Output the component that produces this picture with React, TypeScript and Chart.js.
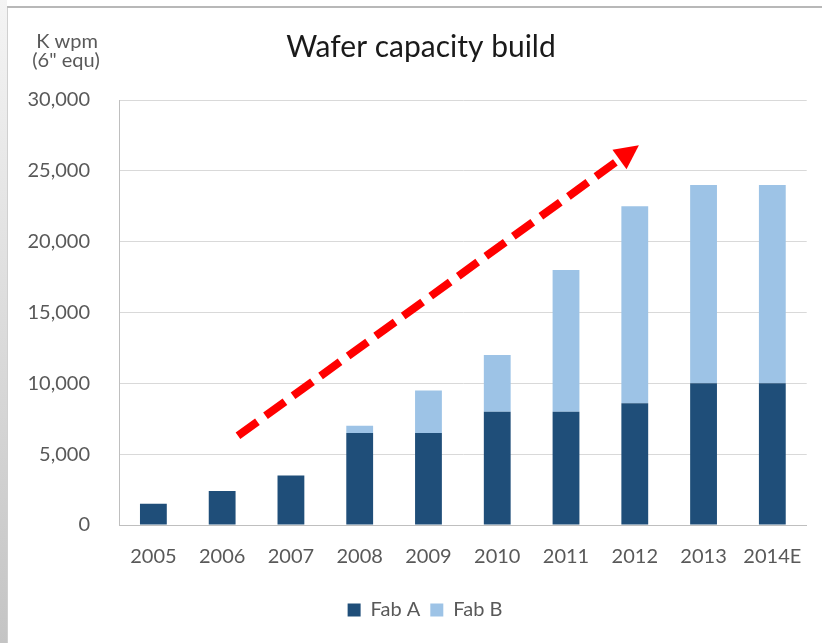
import React, { useEffect, useRef } from 'react';
import { Chart, registerables } from 'chart.js';

Chart.register(...registerables);

const years = ['2005', '2006', '2007', '2008', '2009', '2010', '2011', '2012', '2013', '2014E'];
const fabA = [1500, 2400, 3500, 6500, 6500, 8000, 8000, 8600, 10000, 10000];
const fabB = [0, 0, 0, 500, 3000, 4000, 10000, 13900, 14000, 14000];
const yTickValues = [0, 5000, 10000, 15000, 20000, 25000, 30000];
const titleText = 'Wafer capacity build';
const unitLines = ['K wpm', '(6" equ)'];
// trend arrow, in data units: [category index, value]
const arrowFrom = [1.23, 6300];
const arrowTo = [7.06, 26800];

const FONT = 'Lato, "Open Sans", sans-serif';
const GRAY = '#595959';

const decorPlugin = {
  id: 'decor',
  afterLayout(chart: any) {
    const lg = chart.legend;
    if (lg) {
      lg.left = 42;
      lg.width = lg.right - lg.left;
    }
  },
  afterDatasetsDraw(chart: any) {
    const { ctx } = chart;
    const xs = chart.scales.x;
    const ys = chart.scales.y;
    const x1 = xs.getPixelForValue(arrowFrom[0]);
    const y1 = ys.getPixelForValue(arrowFrom[1]);
    const x2 = xs.getPixelForValue(arrowTo[0]);
    const y2 = ys.getPixelForValue(arrowTo[1]);
    const ang = Math.atan2(y2 - y1, x2 - x1);
    const headLen = 24;
    const headW = 24;
    const bx = x2 - headLen * Math.cos(ang);
    const by = y2 - headLen * Math.sin(ang);
    ctx.save();
    ctx.strokeStyle = '#ff0000';
    ctx.fillStyle = '#ff0000';
    ctx.lineWidth = 8;
    ctx.lineCap = 'butt';
    ctx.setLineDash([24, 10]);
    ctx.beginPath();
    ctx.moveTo(x1, y1);
    ctx.lineTo(bx + 2 * Math.cos(ang), by + 2 * Math.sin(ang));
    ctx.stroke();
    ctx.setLineDash([]);
    const px = -Math.sin(ang) * headW / 2;
    const py = Math.cos(ang) * headW / 2;
    ctx.beginPath();
    ctx.moveTo(x2, y2);
    ctx.lineTo(bx + px, by + py);
    ctx.lineTo(bx - px, by - py);
    ctx.closePath();
    ctx.fill();
    ctx.restore();
  },
  afterDraw(chart: any) {
    const { ctx } = chart;
    ctx.save();
    ctx.textAlign = 'center';
    ctx.textBaseline = 'middle';
    ctx.fillStyle = '#1a1a1a';
    ctx.font = `30px ${FONT}`;
    ctx.fillText(titleText, 421, 47);
    ctx.fillStyle = GRAY;
    ctx.font = `20px ${FONT}`;
    ctx.fillText(unitLines[0], 67, 42);
    ctx.fillText(unitLines[1], 66, 61);
    ctx.restore();
  },
};

export default function App() {
  const ref = useRef<HTMLCanvasElement | null>(null);
  useEffect(() => {
    document.body.style.margin = '0';
    const canvas = ref.current;
    if (!canvas) return;
    const chart = new Chart(canvas, {
      type: 'bar',
      data: {
        labels: years,
        datasets: [
          { label: 'Fab A', data: fabA, backgroundColor: '#1f4e79', categoryPercentage: 1, barPercentage: 0.39 },
          { label: 'Fab B', data: fabB, backgroundColor: '#9dc3e6', categoryPercentage: 1, barPercentage: 0.39 },
        ],
      },
      options: {
        responsive: false,
        animation: false,
        layout: { padding: { top: 100, left: 0, right: 14, bottom: 13 } },
        plugins: {
          title: { display: false },
          tooltip: { enabled: false },
          legend: {
            position: 'bottom',
            labels: {
              boxWidth: 13,
              boxHeight: 13,
              padding: 10,
              color: GRAY,
              font: { family: FONT, size: 20 },
            },
          },
        },
        scales: {
          x: {
            stacked: true,
            grid: { display: false, drawTicks: false },
            border: { display: true, color: '#bfbfbf', width: 1 },
            ticks: { color: GRAY, font: { family: FONT, size: 20 }, padding: 20, maxRotation: 0 },
            afterFit(scale: any) { scale.height = 65; },
          },
          y: {
            stacked: true,
            min: 0,
            max: 30000,
            afterBuildTicks(scale: any) { scale.ticks = yTickValues.map((v) => ({ value: v })); },
            grid: { color: '#d9d9d9', drawTicks: false },
            border: { display: true, color: '#bfbfbf', width: 1 },
            ticks: {
              color: GRAY,
              font: { family: FONT, size: 20 },
              padding: 29,
              callback: (v: any) => Number(v).toLocaleString('en-US'),
            },
            afterFit(scale: any) { scale.width = 119; },
          },
        },
      },
      plugins: [decorPlugin],
    } as any);
    return () => chart.destroy();
  }, []);

  return (
    <div style={{ position: 'relative', width: 822, height: 643, background: '#ffffff', overflow: 'hidden' }}>
      <div style={{ position: 'absolute', left: 0, top: 0, width: 7, height: 643, background: 'linear-gradient(#f4f4f4, #c4c4c4)' }} />
      <div style={{ position: 'absolute', left: 7, top: 6, width: 1, height: 637, background: '#d0d0d0' }} />
      <div style={{ position: 'absolute', left: 7, top: 6, width: 815, height: 2, background: '#b8b8b8' }} />
      <canvas ref={ref} width={822} height={643} style={{ position: 'absolute', left: 0, top: 0 }} />
    </div>
  );
}
